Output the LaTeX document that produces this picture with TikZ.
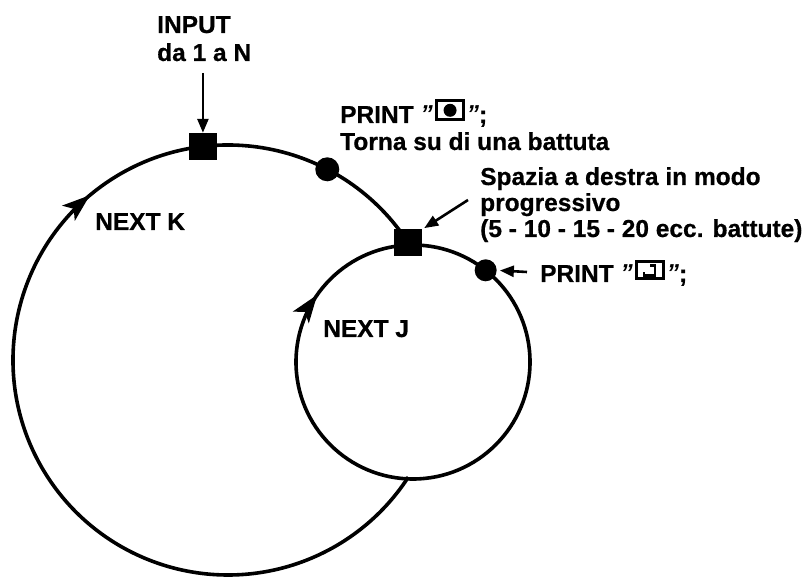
\documentclass[tikz,border=0pt]{standalone}
\usepackage{fontspec}
\setmainfont{Liberation Sans}[BoldFeatures={FakeBold=0.6}]
\usetikzlibrary{arrows.meta}
\begin{document}
\begin{tikzpicture}[x=1pt,y=1pt,
  txt/.style={font=\fontsize{24.5}{28}\selectfont\bfseries, inner sep=0pt, anchor=base west},
  ring/.style={line width=3.6pt},
  dart/.style={fill=black, line join=miter},
  note/.style={line width=2.6pt, -{Triangle[length=14pt,width=11pt]}},
  blk/.style={fill=black, draw=none, minimum width=28pt, minimum height=27pt, inner sep=0pt},
  dotnode/.style={circle, fill=black, inner sep=0pt, minimum size=#1},
  symbox/.style={draw, line width=3.2pt, minimum width=27pt, minimum height=#1, inner sep=0pt, anchor=south west}
]
\useasboundingbox (0,0) rectangle (806,-577);
\coordinate (Cb) at (228,-360);
\coordinate (Cs) at (413,-362);
% circles
\draw[ring] (Cb) ++(33:215) arc[start angle=33, end angle=327, radius=215];
\draw[ring] (Cs) circle[radius=117];
% direction arrowheads on the circles
\coordinate (tK) at ([shift={(130:215)}]Cb);
\coordinate (tJ) at ([shift={(145:117)}]Cs);
\fill[dart, shift={(tK)}, rotate=40] (0,0) -- (-28,10) -- (-21,0) -- (-28,-10) -- cycle;
\fill[dart, shift={(tJ)}, rotate=54] (0,0) -- (-28,10) -- (-21,0) -- (-28,-10) -- cycle;
% blocks and dots on the circles
\node[blk] (sqA) at ([shift={(96.7:215)}]Cb) {};
\node[blk] (sqB) at ([shift={(33:215)}]Cb) {};
\node[dotnode=24pt] (dotA) at ([shift={(62.5:215)}]Cb) {};
\node[dotnode=22pt] (dotB) at ([shift={(51.6:117)}]Cs) {};
% INPUT
\node[txt] (in1) at (157,-33) {INPUT};
\node[txt] (in2) at (157,-61) {da 1 a N};
\draw[note] ([yshift=-12pt]in2.base -| sqA) -- (sqA.north);
% PRINT 1
\node[txt] (p1a) at (340,-123) {PRINT {\itshape "}};
\node[symbox=19pt] (p1b) at ([xshift=2pt,yshift=1.6pt]p1a.base east) {};
\fill (p1b.center) circle (6.5pt);
\node[txt] (p1c) at ([xshift=1.5pt,yshift=-1.6pt]p1b.south east) {{\itshape "};};
\node[txt] (torna) at (340,-150) {Torna su di una battuta};
% Spazia
\node[txt] (sp1) at (480,-185) {Spazia a destra in modo};
\node[txt] (sp2) at (480,-211) {progressivo};
\node[txt] (sp3) at (480,-237) {(5 - 10 - 15 - 20 ecc. battute)};
\coordinate (s2) at (468,-200);
\draw[note, shorten >=2pt] (s2) -- (sqB.north east);
% PRINT 2
\node[txt] (p2a) at (540,-282) {PRINT {\itshape "}};
\node[symbox=17pt] (p2b) at ([xshift=2pt,yshift=1.6pt]p2a.base east) {};
\draw[line width=2.6pt] ([shift={(0,5)}]p2b.center) -- ([shift={(5,5)}]p2b.center)
  -- ([shift={(5,-5)}]p2b.center) -- ([shift={(-6,-5)}]p2b.center) -- ([shift={(-6,-2)}]p2b.center);
\node[txt] (p2c) at ([xshift=1.5pt,yshift=-1.6pt]p2b.south east) {{\itshape "};};
\coordinate (s3) at (527,-272);
\draw[note, shorten >=3pt] (s3) -- (dotB.east);
% NEXT labels
\node[txt] (nk) at (95,-230) {NEXT K};
\node[txt] (nj) at (323,-337) {NEXT J};
\end{tikzpicture}
\end{document}
